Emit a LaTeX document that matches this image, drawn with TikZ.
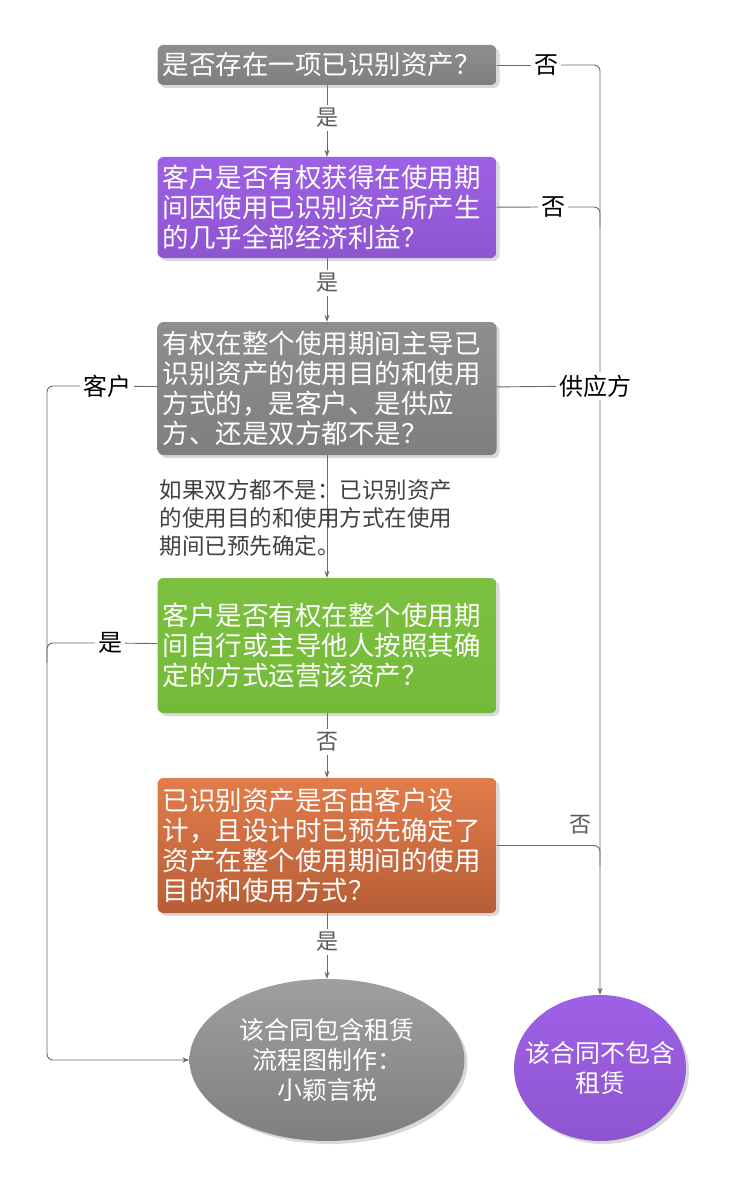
\documentclass[tikz,border=0pt]{standalone}
\usepackage{fontspec}
\setmainfont{Noto Sans CJK SC}
\usetikzlibrary{shapes.geometric,arrows.meta,shadows,backgrounds,calc}

\definecolor{graytop}{HTML}{8E8E8E}
\definecolor{graybot}{HTML}{7F7F7F}
\definecolor{purtop}{HTML}{9E60E6}
\definecolor{purbot}{HTML}{8E55D0}
\definecolor{grntop}{HTML}{7CC040}
\definecolor{grnbot}{HTML}{74BA38}
\definecolor{orgtop}{HTML}{E27C4A}
\definecolor{orgbot}{HTML}{B75E37}
\definecolor{linegray}{HTML}{6A6A6A}

\begin{document}
\begin{tikzpicture}
        [x=1pt,y=-1pt,
         box/.style={rectangle,rounded corners=6pt,minimum width=339pt,text width=329pt,
           inner xsep=5pt,align=left,text=white,font=\fontsize{26.5}{30}\selectfont,
           drop shadow={shadow xshift=3pt,shadow yshift=-3pt,opacity=.3}},
         endnode/.style={ellipse,inner sep=0pt,text=white,align=center,font=\fontsize{25}{30}\selectfont,
           drop shadow={shadow xshift=3pt,shadow yshift=-3pt,opacity=.3}},
         lbl/.style={fill=white,inner sep=3pt,text=black,font=\fontsize{24}{28}\selectfont},
         small/.style={font=\fontsize{22}{26}\selectfont,text=black!65},
         note/.style={align=left,text=black!75,font=\fontsize{22.5}{28}\selectfont},
         conn/.style={draw=linegray,line width=.9pt},
         tip/.style={-{Stealth[length=7pt,width=5pt]}}]
        \useasboundingbox (0,0) rectangle (731,1190);

        % questions
        \node[box,minimum height=40pt,top color=graytop,bottom color=graybot] (q1) at (327,65)
          {是否存在一项已识别资产？};
        \node[box,minimum height=101pt,top color=purtop,bottom color=purbot] (q2) at (327,207.5)
          {客户是否有权获得在使用期\\间因使用已识别资产所产生\\的几乎全部经济利益？};
        \node[box,minimum height=133pt,top color=graytop,bottom color=graybot] (q3) at (327,388.5)
          {有权在整个使用期间主导已\\识别资产的使用目的和使用\\方式的，是客户、是供应\\方、还是双方都不是？};
        \node[box,minimum height=135pt,top color=grntop,bottom color=grnbot] (q4) at (327,645.5)
          {客户是否有权在整个使用期\\间自行或主导他人按照其确\\定的方式运营该资产？};
        \node[box,minimum height=135pt,top color=orgtop,bottom color=orgbot] (q5) at (327,845.5)
          {已识别资产是否由客户设\\计，且设计时已预先确定了\\资产在整个使用期间的使用\\目的和使用方式？};

        % results
        \node[endnode,minimum width=275pt,minimum height=162pt,top color=graytop!85!white,bottom color=graybot] (lease) at (327,1060)
          {\makebox[0pt]{该合同包含租赁}\\\makebox[0pt]{流程图制作：}\\\makebox[0pt]{小颖言税}};
        \node[endnode,minimum width=172pt,minimum height=146pt,top color=purtop,bottom color=purbot] (nolease) at (600,1068)
          {\makebox[0pt]{该合同不包含}\\\makebox[0pt]{租赁}};

        \node[note,anchor=west] (rule) at (156,518)
          {如果双方都不是：已识别资产\\的使用目的和使用方式在使用\\期间已预先确定。};

        % labels
        \node[lbl,small] (y1) at (327,118) {是};
        \node[lbl,small] (y2) at (327,283) {是};
        \node[lbl,small] (n4) at (327,742) {否};
        \node[lbl,small] (y5) at (327,942) {是};
        \node[lbl] (n1) at (546,65) {否};
        \node[lbl] (n2) at (553,207) {否};
        \node[lbl] (supp) at (595,386) {供应方};
        \node[lbl] (cust) at (107,386) {客户};
        \node[lbl] (y4) at (110,643) {是};
        \node[small] (n5) at (580,825) {否};

        \coordinate (lline) at (47,0);

        \begin{scope}[on background layer]
        \draw[conn] (q1) -- (y1);
        \draw[conn,tip] (y1) -- (q2);
        \draw[conn] (q2) -- (y2);
        \draw[conn,tip] (y2) -- (q3);
        \draw[conn,tip] (q3) -- (q4);
        \draw[conn] (q4) -- (n4);
        \draw[conn,tip] (n4) -- (q5);
        \draw[conn] (q5) -- (y5);
        \draw[conn,tip] (y5) -- (lease);

        \draw[conn] (q1) -- (n1);
        \draw[conn,tip,rounded corners=6pt] (n1) -| (nolease);
        \draw[conn] (q2) -- (n2);
        \draw[conn,rounded corners=6pt] (n2) -| ($(n2 -| nolease)+(0,20)$);
        \draw[conn] (q3) -- (supp);
        \draw[conn,rounded corners=6pt] (q5.east) -| ($(q5.east -| nolease)+(0,20)$);

        \draw[conn] (q3) -- (cust);
        \draw[conn,tip,rounded corners=6pt] (cust) -| (lease.west -| lline) -- (lease);
        \draw[conn] (q4) -- (y4);
        \draw[conn,rounded corners=6pt] (y4) -| ($(y4 -| lline)+(0,20)$);
        \end{scope}
    \end{tikzpicture}
\end{document}
